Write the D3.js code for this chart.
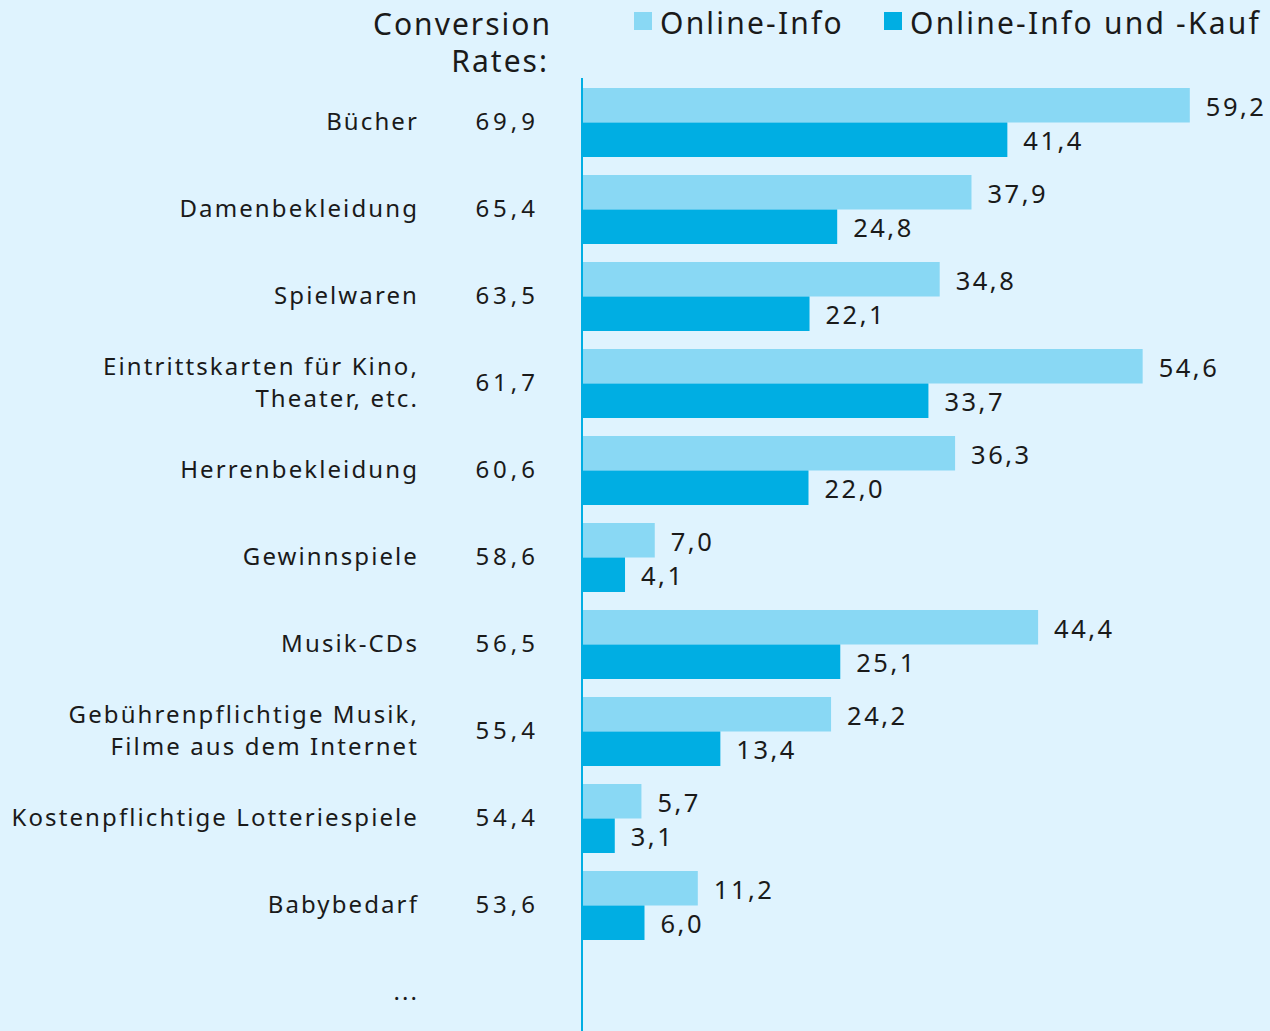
<!DOCTYPE html>
<html>
<head>
<meta charset="utf-8">
<script src="https://cdn.jsdelivr.net/npm/d3@7"></script>
<style>
  body { margin: 0; background: #dff3fe; }
  svg text { font-family: "Noto Sans", "Open Sans", sans-serif; fill: #1a1a1a; }
</style>
</head>
<body>
<div id="chart"></div>
<script>
// daten
const kategorien = [
  ["Bücher"],
  ["Damenbekleidung"],
  ["Spielwaren"],
  ["Eintrittskarten für Kino,", "Theater, etc."],
  ["Herrenbekleidung"],
  ["Gewinnspiele"],
  ["Musik-CDs"],
  ["Gebührenpflichtige Musik,", "Filme aus dem Internet"],
  ["Kostenpflichtige Lotteriespiele"],
  ["Babybedarf"],
  ["..."]
];
const conversionRates = ["69,9", "65,4", "63,5", "61,7", "60,6", "58,6", "56,5", "55,4", "54,4", "53,6", ""];
const onlineInfo = [59.2, 37.9, 34.8, 54.6, 36.3, 7.0, 44.4, 24.2, 5.7, 11.2];
const onlineKauf = [41.4, 24.8, 22.1, 33.7, 22.0, 4.1, 25.1, 13.4, 3.1, 6.0];
const serien = ["Online-Info", "Online-Info und -Kauf"];
const farben = ["#89d8f4", "#00aee3"];

const width = 1270, height = 1031;
const svg = d3.select("#chart").append("svg")
  .attr("width", width)
  .attr("height", height);

svg.append("rect")
  .attr("width", width).attr("height", height)
  .attr("fill", "#dff3fe");

const idx = kategorien.map((d, i) => i);

// skalen
const x = d3.scaleLinear().domain([0, 60]).range([583, 1198]);
const y = d3.scaleBand()
  .domain(idx)
  .range([88, 88 + 87 * 11 - 18])
  .paddingInner(18 / 87)
  .paddingOuter(0)
  .align(0);
const yInner = d3.scaleBand().domain([0, 1]).range([0, y.bandwidth()]);

const fmt = v => d3.format(".1f")(v).replace(".", ",");

// balken
serien.forEach(function(s, si) {
  const werte = si === 0 ? onlineInfo : onlineKauf;
  const g = svg.append("g").attr("class", "serie-" + si);
  g.selectAll("rect")
    .data(werte)
    .enter().append("rect")
    .attr("x", x(0))
    .attr("y", (d, i) => y(i) + yInner(si))
    .attr("width", d => x(d) - x(0))
    .attr("height", yInner.bandwidth())
    .attr("fill", farben[si]);

  g.selectAll("text")
    .data(werte)
    .enter().append("text")
    .attr("x", d => x(d) + 16)
    .attr("y", (d, i) => y(i) + yInner(si) + yInner.bandwidth() / 2)
    .attr("dy", "0.41em")
    .attr("font-size", 25.5)
    .attr("letter-spacing", 2.5)
    .text(d => fmt(d));
});

// kategorien
const kat = svg.append("g");
kategorien.forEach(function(lines, i) {
  const cy = y(i) + y.bandwidth() / 2;
  const t = kat.append("text")
    .attr("text-anchor", "end")
    .attr("font-size", 24)
    .attr("letter-spacing", 2.1);
  lines.forEach(function(l, li) {
    t.append("tspan")
      .attr("x", 419)
      .attr("y", cy + (li - (lines.length - 1) / 2) * 32)
      .attr("dy", "0.31em")
      .text(l);
  });
  kat.append("text")
    .attr("x", 539)
    .attr("y", cy)
    .attr("dy", "0.31em")
    .attr("text-anchor", "end")
    .attr("font-size", 24)
    .attr("letter-spacing", 4)
    .text(conversionRates[i]);
});

// achse
svg.append("line")
  .attr("x1", 582).attr("x2", 582)
  .attr("y1", 78).attr("y2", height)
  .attr("stroke", "#00aee3")
  .attr("stroke-width", 2);

// kopf
svg.append("text")
  .attr("x", 552).attr("y", 24).attr("dy", "0.36em")
  .attr("text-anchor", "end").attr("font-size", 30).attr("letter-spacing", 2)
  .text("Conversion");
svg.append("text")
  .attr("x", 549).attr("y", 61).attr("dy", "0.36em")
  .attr("text-anchor", "end").attr("font-size", 30).attr("letter-spacing", 2)
  .text("Rates:");

// legende
const legX = [634, 884];
serien.forEach(function(s, i) {
  svg.append("rect")
    .attr("x", legX[i]).attr("y", 12)
    .attr("width", 18).attr("height", 18)
    .attr("fill", farben[i]);
  svg.append("text")
    .attr("x", legX[i] + 26).attr("y", 23).attr("dy", "0.36em")
    .attr("font-size", 30).attr("letter-spacing", 2.2)
    .text(s);
});
</script>
</body>
</html>
